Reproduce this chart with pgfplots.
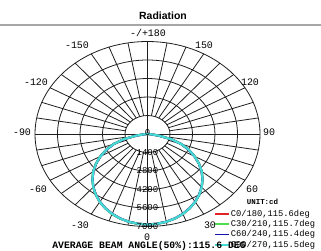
\documentclass[border=0pt]{standalone}
\usepackage{pgfplots}
\usepackage{pgfplotstable}
\pgfplotsset{compat=1.18}
\usepackage{fontspec}
\setmainfont{Liberation Sans}
\newfontfamily\mono{Liberation Mono}
\definecolor{cRed}{RGB}{225,35,35}
\definecolor{cGreen}{RGB}{80,220,80}
\definecolor{cBlue}{RGB}{20,20,170}
\definecolor{cCyan}{RGB}{70,218,212}
\definecolor{gridc}{RGB}{30,30,30}

% phi = photometric angle - 90 (0 deg points down), radius in cd
\pgfplotstableread{
phi   c0    c30   c60   c90
-180  0     0     0     0
-175  200   205   195   200
-170  700   710   690   700
-165  1550  1560  1540  1550
-160  2250  2260  2240  2250
-155  2830  2840  2820  2830
-150  3380  3390  3370  3380
-145  3910  3915  3900  3910
-140  4403  4410  4395  4403
-135  4844  4850  4835  4844
-130  5247  5250  5240  5247
-125  5611  5615  5605  5611
-120  5932  5935  5925  5932
-115  6208  6210  6200  6208
-110  6437  6440  6430  6437
-105  6617  6620  6610  6617
-100  6746  6748  6740  6746
-95   6824  6826  6820  6824
-90   6850  6852  6846  6850
-85   6824  6826  6820  6824
-80   6746  6748  6740  6746
-75   6617  6620  6610  6617
-70   6437  6440  6430  6437
-65   6208  6210  6200  6208
-60   5932  5935  5925  5932
-55   5611  5615  5605  5611
-50   5247  5250  5240  5247
-45   4844  4850  4835  4844
-40   4403  4410  4395  4403
-35   3910  3915  3900  3910
-30   3380  3390  3370  3380
-25   2830  2840  2820  2830
-20   2250  2260  2240  2250
-15   1550  1560  1540  1550
-10   700   710   690   700
-5    200   205   195   200
0     0     0     0     0
}\radtable

\tikzset{
  anglab/.style={font=\mono\fontsize{10}{11}\selectfont, inner sep=0pt},
  ringlab/.style={font=\mono\fontsize{9}{10}\selectfont, inner sep=0pt},
}

\begin{document}
\begin{tikzpicture}
\begin{axis}[
  at={(0,0)}, anchor=origin,
  scale only axis, width=225bp, height=185bp,
  xmin=-7000, xmax=7000, ymin=-7000, ymax=7000,
  hide axis, clip=false,
  legend style={draw=none, fill=none, at={(axis description cs:0.795,0.097)}, anchor=north west,
    font=\mono\fontsize{8.8}{9.5}\selectfont, inner sep=0pt, row sep=0pt, column sep=0pt,
    nodes={inner sep=1bp, text height=6.4bp, text depth=1.9bp}},
  legend cell align=left,
  legend image code/.code={\draw[#1, line width=1.8bp] (0bp,0bp) -- (14bp,0bp);},
]
\pgfplotsinvokeforeach{1400,2800,4200,5600,7000}{
  \draw[gridc, line width=0.8bp] (axis cs:0,0) ellipse [x radius=#1, y radius=#1];
}
\pgfplotsinvokeforeach{10,20,30,40,50,60,70,80,100,110,120,130,140,150,160,170,190,200,210,220,230,240,250,260,280,290,300,310,320,330,340,350}{
  \draw[gridc, line width=0.8bp] (axis cs:{1400*cos(#1)},{1400*sin(#1)}) -- (axis cs:{7000*cos(#1)},{7000*sin(#1)});
}
\draw[gridc, line width=0.8bp] (axis cs:-7000,0) -- (axis cs:7000,0);
\draw[gridc, line width=0.8bp] (axis cs:0,-7000) -- (axis cs:0,7000);

\addplot[cRed, line width=2.2bp, data cs=polar] table[x=phi, y=c0]{\radtable};
\addplot[cGreen, line width=2.2bp, data cs=polar] table[x=phi, y=c30]{\radtable};
\addplot[cBlue, line width=2.2bp, data cs=polar] table[x=phi, y=c60]{\radtable};
\addplot[cCyan, line width=2.2bp, data cs=polar] table[x=phi, y=c90]{\radtable};
\legend{{C0/180,115.6deg}, {C30/210,115.7deg}, {C60/240,115.4deg}, {C90/270,115.5deg}}

\node[ringlab] at (axis cs:0,0) [yshift=1.8bp] {0};
\node[ringlab] at (axis cs:0,-1400) {1400};
\node[ringlab] at (axis cs:0,-2800) {2800};
\node[ringlab] at (axis cs:0,-4200) {4200};
\node[ringlab] at (axis cs:0,-5600) {5600};
\node[ringlab] at (axis cs:0,-7000) {7000};
\end{axis}

% title and rule
\node[font=\bfseries\fontsize{10.5}{12}\selectfont] at (15.5bp,118bp) {Radiation};
\draw[gray!70, line width=2bp] (-147.5bp,109bp) -- (173.5bp,109bp);

% angle labels
\node[anglab] at (0.5bp,101bp) {-/+180};
\node[anglab] at (-70.5bp,89bp) {-150};
\node[anglab] at (56.5bp,89bp) {150};
\node[anglab] at (-111.5bp,52bp) {-120};
\node[anglab] at (102.5bp,52bp) {120};
\node[anglab] at (-125.5bp,2bp) {-90};
\node[anglab] at (121.5bp,2bp) {90};
\node[anglab] at (-109.5bp,-55bp) {-60};
\node[anglab] at (104.5bp,-55bp) {60};
\node[anglab] at (-67.5bp,-91bp) {-30};
\node[anglab] at (62.5bp,-91bp) {30};
\node[anglab] at (-0.5bp,-103bp) {0};
\node[font=\mono\bfseries\fontsize{9.8}{11}\selectfont, inner sep=0pt] at (1.5bp,-111.5bp) {AVERAGE BEAM ANGLE(50\%):115.6 DEG};
\node[font=\mono\bfseries\fontsize{7.5}{8}\selectfont, inner sep=0pt] at (115bp,-68bp) {UNIT:cd};

\pgfresetboundingbox
\path (-147.5bp,-117bp) rectangle (173.5bp,134bp);
\end{tikzpicture}
\end{document}
